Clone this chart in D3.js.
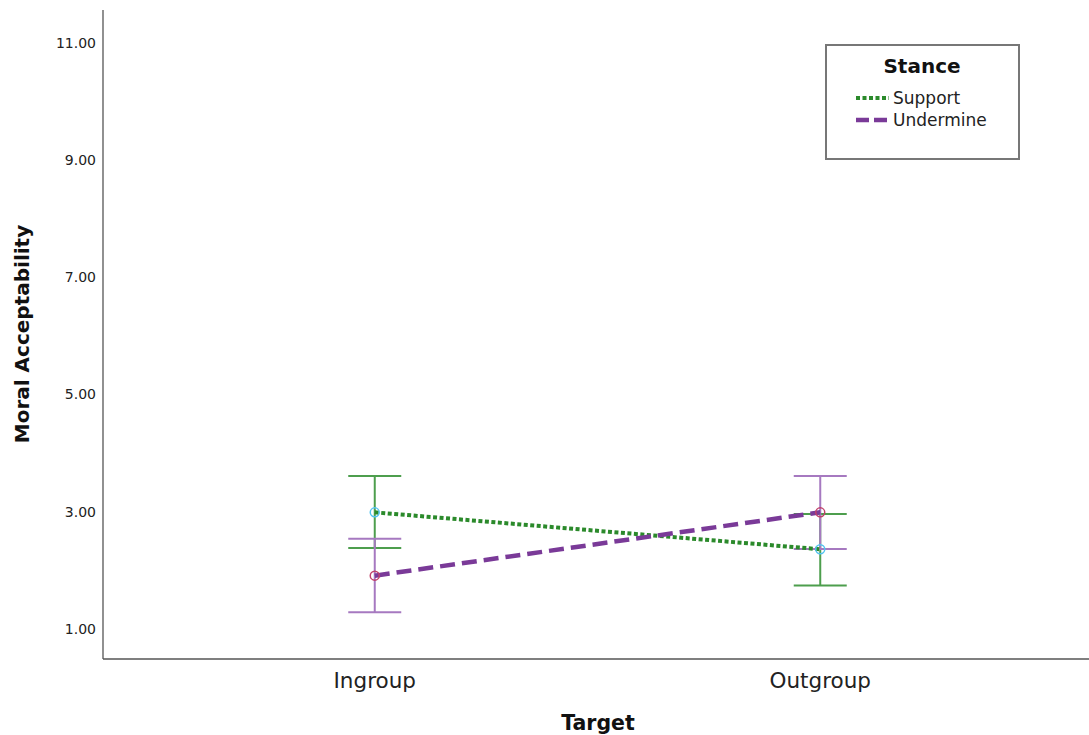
<!DOCTYPE html>
<html><head><meta charset="utf-8">
<script src="https://cdn.jsdelivr.net/npm/d3@7"></script>
<style>body{margin:0;background:#fff}svg{display:block}</style>
</head><body>
<svg id="c" width="1089" height="735"></svg>
<script>
const categories = ["Ingroup", "Outgroup"];
const seriesNames = ["Support", "Undermine"];
const supportMean = [2.99, 2.36];
const supportLow = [2.38, 1.74];
const supportHigh = [3.61, 2.96];
const undermineMean = [1.91, 2.99];
const undermineLow = [1.285, 2.365];
const undermineHigh = [2.54, 3.61];
const yTicks = [1, 3, 5, 7, 9, 11];

(function () {
const svg = d3.select("#c");
const pLeft = 103, pRight = 1089, pTop = 10, pBottom = 659;
const x = d3.scalePoint().domain(categories).range([pLeft, pRight + 3]).padding(0.61);
const y = d3.scaleLinear().domain([0.488, 11.56]).range([pBottom, pTop]);

const series = [
  {name: seriesNames[0], mean: supportMean, lo: supportLow, hi: supportHigh,
   line: "#2b8a2b", err: "#4d9e4d", marker: "#52c3f0", dash: "4,2.5", width: 4},
  {name: seriesNames[1], mean: undermineMean, lo: undermineLow, hi: undermineHigh,
   line: "#7a3a98", err: "#a679c0", marker: "#c0406a", dash: "15,7", width: 4.5}
];

// axes
svg.append("line").attr("x1", pLeft).attr("x2", pLeft).attr("y1", pTop).attr("y2", pBottom)
  .attr("stroke", "#555").attr("stroke-width", 1.3);
svg.append("line").attr("x1", pLeft).attr("x2", pRight).attr("y1", pBottom).attr("y2", pBottom)
  .attr("stroke", "#555").attr("stroke-width", 1.3);

svg.selectAll(".yt").data(yTicks).enter().append("text")
  .attr("x", pLeft - 7).attr("y", d => y(d)).attr("dy", "0.35em")
  .attr("text-anchor", "end").attr("font-family", "DejaVu Sans").attr("font-size", 14)
  .attr("fill", "#222").text(d => d.toFixed(2));

svg.selectAll(".xt").data(categories).enter().append("text")
  .attr("x", d => x(d)).attr("y", 688).attr("text-anchor", "middle")
  .attr("font-family", "DejaVu Sans").attr("font-size", 21.5).attr("fill", "#222").text(d => d);

svg.append("text").attr("x", 598).attr("y", 730).attr("text-anchor", "middle")
  .attr("font-family", "DejaVu Sans").attr("font-weight", "bold").attr("font-size", 20.5)
  .attr("fill", "#111").text("Target");

svg.append("text").attr("transform", "translate(29,334) rotate(-90)").attr("text-anchor", "middle")
  .attr("font-family", "DejaVu Sans").attr("font-weight", "bold").attr("font-size", 20)
  .attr("fill", "#111").text("Moral Acceptability");

// error bars
const capW = 26.5;
series.forEach(s => {
  const g = svg.append("g");
  categories.forEach((c, i) => {
    const cx = x(c);
    g.append("line").attr("x1", cx).attr("x2", cx).attr("y1", y(s.lo[i])).attr("y2", y(s.hi[i]))
      .attr("stroke", s.err).attr("stroke-width", 2);
    [s.lo[i], s.hi[i]].forEach(v => {
      g.append("line").attr("x1", cx - capW).attr("x2", cx + capW).attr("y1", y(v)).attr("y2", y(v))
        .attr("stroke", s.err).attr("stroke-width", 2);
    });
  });
});

// lines
const line = d3.line().x((d, i) => x(categories[i])).y(d => y(d));
series.forEach(s => {
  svg.append("path").datum(s.mean).attr("d", line).attr("fill", "none")
    .attr("stroke", s.line).attr("stroke-width", s.width).attr("stroke-dasharray", s.dash);
});
series.forEach(s => {
  svg.selectAll(null).data(s.mean).enter().append("circle")
    .attr("cx", (d, i) => x(categories[i])).attr("cy", d => y(d)).attr("r", 4.5)
    .attr("fill", "none").attr("stroke", s.marker).attr("stroke-width", 1.5);
});

// legend
const lg = svg.append("g");
lg.append("rect").attr("x", 826).attr("y", 45).attr("width", 193).attr("height", 114)
  .attr("fill", "#fff").attr("stroke", "#777").attr("stroke-width", 2);
lg.append("text").attr("x", 922).attr("y", 73).attr("text-anchor", "middle")
  .attr("font-family", "DejaVu Sans").attr("font-weight", "bold").attr("font-size", 20)
  .attr("fill", "#111").text("Stance");
series.forEach((s, i) => {
  const ly = 98 + i * 22;
  lg.append("line").attr("x1", 856).attr("x2", 889).attr("y1", ly).attr("y2", ly)
    .attr("stroke", s.line).attr("stroke-width", s.width).attr("stroke-dasharray", i === 0 ? "4,2.5" : "13,5");
  lg.append("text").attr("x", 893).attr("y", ly).attr("dy", "0.35em")
    .attr("font-family", "DejaVu Sans").attr("font-size", 17).attr("fill", "#222").text(s.name);
});
})();
</script>
</body></html>
